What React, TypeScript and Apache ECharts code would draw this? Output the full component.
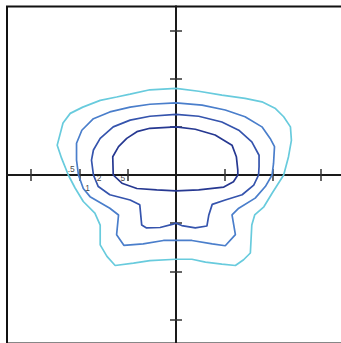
import React, { useEffect, useRef } from "react";
import * as echarts from "echarts";

// contour levels (outer to inner)
const levelNames = [".5", "1", "2", "5"];
const levelColors = ["#68cbdd", "#4a7ecb", "#3554ad", "#263891"];

// contour .5 (x, y)
const contourHalf: number[][] = [
  [0, 1.8], [0.47, 1.74], [0.95, 1.66], [1.43, 1.59], [1.78, 1.52], [2.06, 1.38],
  [2.23, 1.21], [2.37, 1.0], [2.39, 0.72], [2.33, 0.38], [2.23, 0], [1.99, -0.38],
  [1.82, -0.66], [1.63, -0.83], [1.57, -1.04], [1.54, -1.62], [1.4, -1.76],
  [1.23, -1.88], [0.95, -1.85], [0.61, -1.81], [0.33, -1.75], [0, -1.75],
  [-0.54, -1.78], [-0.88, -1.83], [-1.26, -1.88], [-1.43, -1.69], [-1.57, -1.45],
  [-1.57, -1.04], [-1.68, -0.79], [-1.92, -0.55], [-2.09, -0.27], [-2.23, 0],
  [-2.37, 0.35], [-2.46, 0.62], [-2.34, 1.08], [-2.19, 1.28], [-1.93, 1.41],
  [-1.57, 1.55], [-1.23, 1.62], [-0.95, 1.68], [-0.54, 1.77], [0, 1.8],
];

// contour 1
const contourOne: number[][] = [
  [0, 1.5], [0.54, 1.45], [1.02, 1.35], [1.43, 1.21], [1.78, 1.0], [1.95, 0.76],
  [2.04, 0.59], [2.02, 0.24], [1.99, 0], [1.85, -0.24], [1.64, -0.48], [1.3, -0.69],
  [1.16, -0.83], [1.23, -1.24], [1.02, -1.47], [0.75, -1.43], [0.33, -1.36],
  [0, -1.36], [-0.26, -1.36], [-0.68, -1.43], [-1.08, -1.46], [-1.23, -1.24],
  [-1.19, -0.83], [-1.37, -0.69], [-1.78, -0.45], [-1.92, -0.28], [-2.02, 0],
  [-2.06, 0.31], [-2.06, 0.66], [-1.95, 0.93], [-1.71, 1.17], [-1.37, 1.31],
  [-0.95, 1.41], [-0.54, 1.47], [0, 1.5],
];

// contour 2
const contourTwo: number[][] = [
  [0, 1.26], [0.47, 1.22], [0.95, 1.1], [1.3, 0.93], [1.57, 0.69], [1.72, 0.41],
  [1.72, 0.17], [1.71, 0], [1.61, -0.21], [1.37, -0.41], [1.02, -0.52], [0.75, -0.61],
  [0.68, -0.83], [0.64, -1.06], [0.4, -1.1], [0.12, -1.05], [0, -1.0],
  [-0.06, -1.02], [-0.33, -1.09], [-0.61, -1.1], [-0.71, -1.04], [-0.75, -0.62],
  [-0.95, -0.52], [-1.37, -0.41], [-1.61, -0.24], [-1.71, 0], [-1.75, 0.31],
  [-1.71, 0.52], [-1.57, 0.76], [-1.3, 1.0], [-0.95, 1.14], [-0.54, 1.22], [0, 1.26],
];

// contour 5
const contourFive: number[][] = [
  [0, 1.0], [0.4, 0.95], [0.81, 0.83], [1.16, 0.62], [1.25, 0.38], [1.28, 0.1],
  [1.28, 0], [1.19, -0.14], [0.99, -0.25], [0.47, -0.31], [0, -0.33],
  [-0.4, -0.31], [-0.81, -0.28], [-1.12, -0.17], [-1.3, 0], [-1.31, 0.38],
  [-1.19, 0.59], [-1.02, 0.76], [-0.81, 0.9], [-0.54, 0.97], [0, 1.0],
];

// contour label positions (x, y)
const labelPoints: number[][] = [
  [-2.17, 0.13], [-1.83, -0.26], [-1.59, -0.07], [-1.1, -0.07],
];

const tickValues = [-3, -2, -1, 1, 2, 3];
const axisMin = -3.5;
const axisMax = 3.5;

export default function App() {
  const ref = useRef<HTMLDivElement>(null);
  useEffect(() => {
    if (!ref.current) return;
    const chart = echarts.init(ref.current, null, { renderer: "svg" });
    const contours = [contourHalf, contourOne, contourTwo, contourFive];
    const axisBase = (inside: boolean, position: string) => ({
      type: "value" as const,
      min: axisMin,
      max: axisMax,
      position,
      splitLine: { show: false },
      axisLabel: { show: false },
      axisLine: {
        show: true,
        onZero: true,
        onZeroAxisIndex: 0,
        lineStyle: { color: "#1a1a1a", width: 2 },
      },
      axisTick: {
        show: true,
        inside,
        length: 6,
        customValues: tickValues,
        lineStyle: { color: "#333", width: 1.5 },
      },
    });
    chart.setOption({
      animation: false,
      grid: {
        left: 7,
        top: 6.5,
        width: 338,
        height: 337,
        containLabel: false,
        outerBoundsMode: "none",
        show: true,
        borderColor: "#111",
        borderWidth: 2,
        backgroundColor: "transparent",
      },
      xAxis: [axisBase(false, "bottom"), axisBase(true, "bottom")],
      yAxis: [axisBase(false, "left"), axisBase(true, "left")],
      series: [
        ...contours.map((c, i) => ({
          type: "line",
          name: levelNames[i],
          data: c,
          showSymbol: false,
          symbol: "none",
          smooth: false,
          lineStyle: { color: levelColors[i], width: 1.7 },
          z: 3,
        })),
        {
          type: "scatter",
          data: labelPoints.map((p, i) => ({ value: p, name: levelNames[i] })),
          symbolSize: 1,
          itemStyle: { color: "transparent" },
          label: {
            show: true,
            position: "inside",
            formatter: (p: any) => p.name,
            fontSize: 8.5,
            fontFamily: "Liberation Sans, Arial, sans-serif",
            color: "#111",
          },
          z: 5,
        },
      ],
    });
    return () => chart.dispose();
  }, []);
  return (
    <div
      ref={ref}
      style={{ position: "fixed", left: 0, top: 0, width: 341, height: 343, background: "#fff" }}
    />
  );
}
